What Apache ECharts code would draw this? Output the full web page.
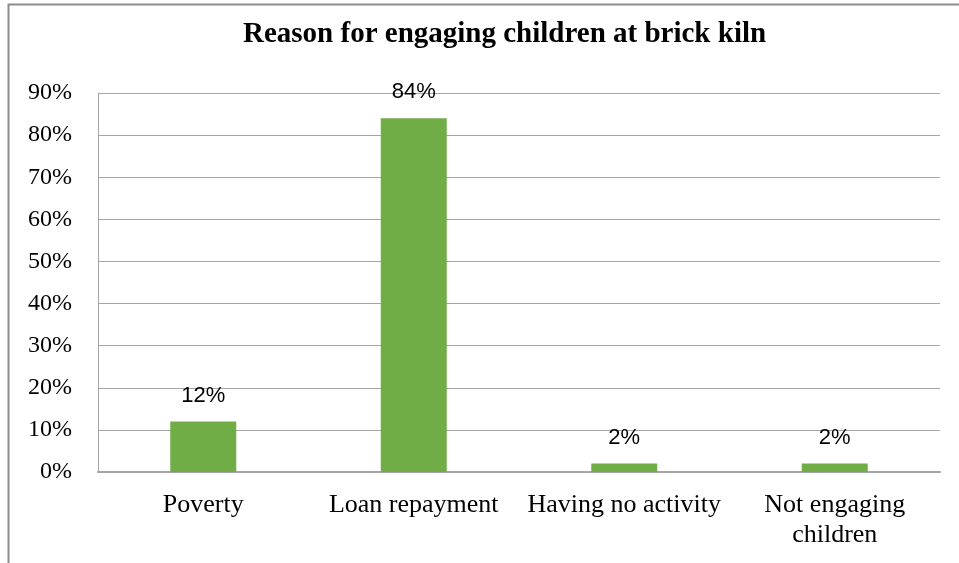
<!DOCTYPE html>
<html>
<head>
<meta charset="utf-8">
<script src="https://cdn.jsdelivr.net/npm/echarts@6/dist/echarts.min.js"></script>
<style>
  html, body { margin: 0; padding: 0; background: #fff; }
  #chart { width: 959px; height: 563px; }
</style>
</head>
<body>
<div id="chart"></div>
<script>
// Reasons given for engaging children at brick kilns (share of respondents, %)
const categories = ['Poverty', 'Loan repayment', 'Having no activity', 'Not engaging\nchildren'];
const shares = [12, 84, 2, 2];
const yTicks = { min: 0, max: 90, step: 10 };

const chart = echarts.init(document.getElementById('chart'), null, { renderer: 'canvas' });

chart.setOption({
  animation: false,
  backgroundColor: '#ffffff',
  title: {
    text: 'Reason for engaging children at brick kiln',
    left: 238,
    top: 15,
    textStyle: {
      fontFamily: 'Liberation Serif',
      fontWeight: 'bold',
      fontSize: 29,
      color: '#000'
    }
  },
  graphic: [{
    // frame around the chart area (open to the right and bottom)
    type: 'polyline',
    shape: { points: [[8.5, 563], [8.5, 4.5], [959, 4.5]] },
    style: { stroke: '#8c8c8c', lineWidth: 2, fill: null },
    silent: true
  }],
  grid: { left: 98, right: 19, top: 93, bottom: 91 },
  xAxis: {
    type: 'category',
    data: categories,
    axisLine: { show: true, lineStyle: { color: '#a6a6a6', width: 2 } },
    axisTick: { show: false },
    axisLabel: {
      fontFamily: 'Liberation Serif',
      fontSize: 26,
      color: '#000',
      margin: 18,
      lineHeight: 30,
      interval: 0
    }
  },
  yAxis: {
    type: 'value',
    min: yTicks.min,
    max: yTicks.max,
    interval: yTicks.step,
    axisLine: { show: true, lineStyle: { color: '#a6a6a6', width: 1 } },
    axisTick: { show: false },
    splitLine: { show: true, lineStyle: { color: '#a6a6a6', width: 1 } },
    axisLabel: {
      formatter: v => v + '%',
      fontFamily: 'Liberation Serif',
      fontSize: 24,
      color: '#000',
      margin: 26,
      padding: [3, 0, 0, 0]
    }
  },
  series: [{
    type: 'bar',
    data: shares,
    barWidth: 66,
    itemStyle: { color: '#70ad47' },
    label: {
      show: true,
      position: 'top',
      distance: 15,
      formatter: p => p.value + '%',
      fontFamily: 'Liberation Sans',
      fontSize: 22,
      color: '#000'
    }
  }]
});
</script>
</body>
</html>
